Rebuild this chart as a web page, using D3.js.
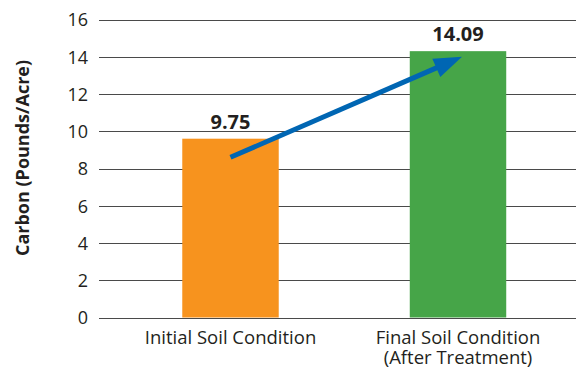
<!DOCTYPE html>
<html>
<head>
<meta charset="utf-8">
<script src="https://cdn.jsdelivr.net/npm/d3@7"></script>
<style>
  html, body { margin: 0; padding: 0; background: #fff; }
  svg { display: block; }
  text { font-family: "Open Sans", "Noto Sans", sans-serif; }
</style>
</head>
<body>
<svg id="chart" width="576" height="370"></svg>
<script>
// ---- data ----
const categories = ["Initial Soil Condition", "Final Soil Condition"];
const categorySubLabels = ["", "(After Treatment)"];
const barValues = [9.6, 14.3];          // drawn heights
const valueLabels = ["9.75", "14.09"];  // printed labels
const barColors = ["#F7931E", "#46A548"];
const yTicks = [0, 2, 4, 6, 8, 10, 12, 14, 16];
const yTitle = "Carbon (Pounds/Acre)";
const arrowFromValue = 8.6;   // arrow start level (category 0)
const arrowToValue = 14.0;    // arrow tip level (category 1)

// ---- layout ----
const svg = d3.select("#chart");
const gridLeft = 99, gridRight = 576;

const y = d3.scaleLinear().domain([0, 16]).range([317.5, 19.5]);
const x = d3.scaleBand().domain(categories).range([116.75, 571.75]).paddingInner(0.576).paddingOuter(0.288);

// gridlines
svg.append("g").selectAll("line").data(yTicks).join("line")
  .attr("x1", gridLeft).attr("x2", gridRight)
  .attr("y1", d => Math.round(y(d)) + 0.5).attr("y2", d => Math.round(y(d)) + 0.5)
  .attr("stroke", "#4a4a4a").attr("stroke-width", 1.2);

// y axis tick labels
const yAxis = d3.axisLeft(y).tickValues(yTicks).tickSize(0).tickPadding(0).tickFormat(d3.format("d"));
const gy = svg.append("g").attr("transform", `translate(88,0)`).call(yAxis);
gy.select(".domain").remove();
gy.selectAll("text").attr("font-size", 18).attr("fill", "#231f20")
  .attr("font-family", "'Open Sans', sans-serif").attr("dy", "0.36em");

// y title
svg.append("text")
  .attr("transform", `translate(29,158) rotate(-90)`)
  .attr("text-anchor", "middle")
  .attr("font-size", 18).attr("font-weight", "bold").attr("fill", "#231f20")
  .text(yTitle);

// bars
svg.append("g").selectAll("rect").data(categories).join("rect")
  .attr("x", d => x(d)).attr("width", x.bandwidth())
  .attr("y", (d, i) => y(barValues[i]))
  .attr("height", (d, i) => y(0) - y(barValues[i]))
  .attr("fill", (d, i) => barColors[i]);

// value labels
svg.append("g").selectAll("text").data(categories).join("text")
  .attr("x", d => x(d) + x.bandwidth() / 2)
  .attr("y", (d, i) => y(barValues[i]) - 10)
  .attr("text-anchor", "middle")
  .attr("font-size", 20).attr("font-weight", "bold").attr("fill", "#231f20")
  .text((d, i) => valueLabels[i]);

// x category labels (two lines each)
const xg = svg.append("g");
categories.forEach((c, i) => {
  const cx = x(c) + x.bandwidth() / 2;
  xg.append("text").attr("x", cx).attr("y", 344).attr("text-anchor", "middle")
    .attr("font-size", 18.5).attr("fill", "#231f20").text(c);
  if (categorySubLabels[i]) {
    xg.append("text").attr("x", cx).attr("y", 364).attr("text-anchor", "middle")
      .attr("font-size", 18.5).attr("fill", "#231f20").text(categorySubLabels[i]);
  }
});

// arrow
const ax1 = x(categories[0]) + x.bandwidth() / 2;
const ay1 = y(arrowFromValue);
const ax2 = x(categories[1]) + x.bandwidth() / 2 + 4;
const ay2 = y(arrowToValue);
const ang = Math.atan2(ay2 - ay1, ax2 - ax1);
const headLen = 28, headHalf = 10;
const bx = ax2 - headLen * Math.cos(ang), by = ay2 - headLen * Math.sin(ang);
const px = -Math.sin(ang), py = Math.cos(ang);
svg.append("line")
  .attr("x1", ax1).attr("y1", ay1).attr("x2", bx + 2 * Math.cos(ang)).attr("y2", by + 2 * Math.sin(ang))
  .attr("stroke", "#0066B3").attr("stroke-width", 5);
svg.append("path")
  .attr("d", d3.line()([[ax2, ay2], [bx + px * headHalf, by + py * headHalf], [bx - px * headHalf, by - py * headHalf]]) + "Z")
  .attr("fill", "#0066B3");
</script>
</body>
</html>
